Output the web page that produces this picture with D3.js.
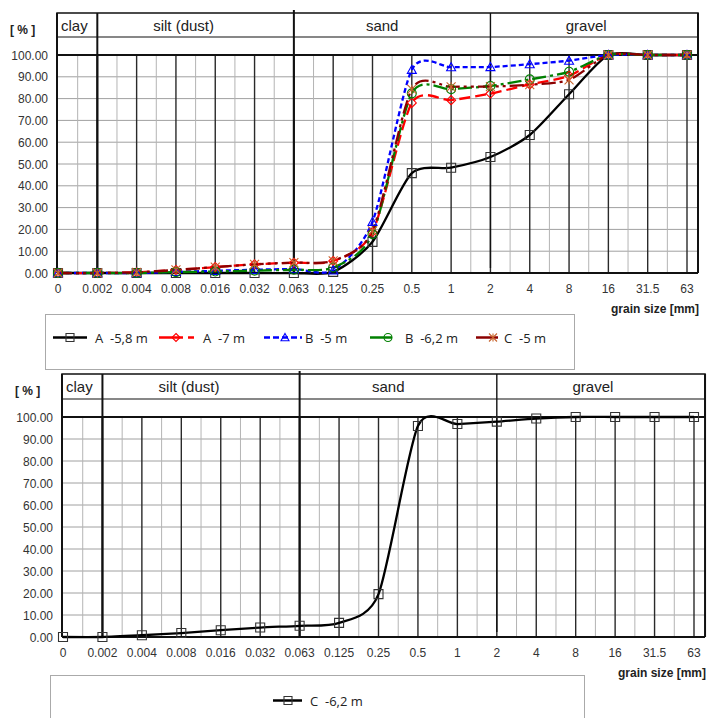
<!DOCTYPE html>
<html><head><meta charset="utf-8">
<script src="https://cdn.jsdelivr.net/npm/d3@7"></script>
<style>html,body{margin:0;padding:0;background:#fff;}svg{display:block;}</style>
</head><body>
<script>
// ---- DATA ----
const categories = ["0","0.002","0.004","0.008","0.016","0.032","0.063","0.125","0.25","0.5","1","2","4","8","16","31.5","63"];
const yTicks = [0,10,20,30,40,50,60,70,80,90,100];
const zones = [
  {name:"clay", from:0, to:1},
  {name:"silt (dust)", from:1, to:6},
  {name:"sand", from:6, to:11},
  {name:"gravel", from:11, to:16.28}
];
const serA58 = [0,0,0,0,0,0,0,0.5,14.3,45.8,48.3,53.2,63.3,82,100,100,100];
const serA7  = [0,0,0.3,1.4,2.7,4,4.7,5.5,18.8,78,79.3,82.3,86.5,90.5,100,100,100];
const serB5  = [0,0,0,0.5,1,1.5,1.8,1.2,23.5,93.2,94.4,94.5,95.8,97.4,100,100,100];
const serB62 = [0,0,0,0.4,0.7,1.1,1.5,2.5,17.8,82.4,84.3,85.8,88.8,92.3,100,100,100];
const serC5  = [0,0,0.3,1.4,2.7,4,4.8,5.6,19.3,84.3,85.4,85.5,86.4,88.6,100,100,100];
const serC62 = [0,0,0.8,1.8,3.1,4.3,5.1,6.4,19.5,95.9,96.8,97.9,99.3,100,100,100,100];

const topSeries = [
  {name:"A  -5,8 m", values:serA58, color:"#000", dash:null, marker:"square", mcolor:"#333"},
  {name:"A  -7 m", values:serA7, color:"#ff0000", dash:"11,5", marker:"diamond", mcolor:"#ff0000"},
  {name:"B  -5 m", values:serB5, color:"#0000ff", dash:"5,3", marker:"triangle", mcolor:"#0000ff"},
  {name:"B  -6,2 m", values:serB62, color:"#008000", dash:"14,4,3,4", marker:"circle", mcolor:"#008000"},
  {name:"C  -5 m", values:serC5, color:"#8b0000", dash:"14,4,3,4,3,4", marker:"asterisk", mcolor:"#c8642d"}
];
const bottomSeries = [
  {name:"C  -6,2 m", values:serC62, color:"#000", dash:null, marker:"square", mcolor:"#333"}
];

const W = 708, H = 718;
const svg = d3.select("body").append("svg").attr("width", W).attr("height", H);

function markerPath(type, s){
  const h = s/2;
  if(type==="square") return `M${-h},${-h}h${s}v${s}h${-s}z`;
  if(type==="diamond") return `M0,${-h}L${h},0L0,${h}L${-h},0z`;
  if(type==="triangle") return `M0,${-h}L${h},${h*0.8}L${-h},${h*0.8}z`;
  if(type==="circle") return `M${h},0A${h},${h} 0 1,1 ${-h},0A${h},${h} 0 1,1 ${h},0z`;
  if(type==="asterisk") return `M${-h},${-h}L${h},${h}M${-h},${h}L${h},${-h}M0,${-h}L0,${h}`;
}

function drawChart(cfg){
  const g = svg.append("g");
  const x = d3.scaleLinear().domain([0,16]).range([cfg.x0, cfg.x16]);
  const y = d3.scaleLinear().domain([0,100]).range([cfg.yBottom, cfg.yTop]);
  const xRight = x(16.28);
  const xLeft = x(0) - 1;

  // horizontal grid
  g.selectAll(".hg").data(yTicks.filter(d=>d>0 && d<100)).join("line")
    .attr("x1", xLeft).attr("x2", xRight).attr("y1", d=>y(d)).attr("y2", d=>y(d))
    .attr("stroke","#a0a0a0").attr("stroke-width",1);
  // minor verticals
  g.selectAll(".mv").data(d3.range(0,16)).join("line")
    .attr("x1", d=>x(d+0.5)).attr("x2", d=>x(d+0.5)).attr("y1", y(100)).attr("y2", y(0))
    .attr("stroke","#b4b4b4").attr("stroke-width",1);
  // major verticals
  g.selectAll(".Mv").data(d3.range(1,17)).join("line")
    .attr("x1", d=>x(d)).attr("x2", d=>x(d)).attr("y1", y(100)).attr("y2", y(0))
    .attr("stroke","#2a2a2a").attr("stroke-width",d=>(d===1||d===6)?2:1.4);

  // header box
  const hTop = cfg.hTop, hMid = cfg.hMid;
  g.append("rect").attr("x", xLeft).attr("y", hTop).attr("width", xRight - xLeft).attr("height", y(100)-hTop)
    .attr("fill","none").attr("stroke","#111").attr("stroke-width",1.5);
  g.append("line").attr("x1", xLeft).attr("x2", xRight).attr("y1", hMid).attr("y2", hMid)
    .attr("stroke","#111").attr("stroke-width",1.2);
  // zone dividers
  [1,6,11].forEach(i=>{
    g.append("line").attr("x1", x(i)).attr("x2", x(i)).attr("y1", i===6? hTop-3 : hTop)
      .attr("y2", i===11 ? y(0)-5 : y(0))
      .attr("stroke","#111").attr("stroke-width", i===11?1.4:2);
  });
  g.selectAll(".zt").data(zones).join("text")
    .attr("x", d=> d.name==="clay" ? x(d.from)+3 : (x(d.from)+x(d.to))/2 - (d.name==="silt (dust)"?12:(d.name==="sand"?10:8)))
    .attr("y", hTop + 18)
    .attr("text-anchor", d=> d.name==="clay" ? "start" : "middle")
    .attr("font-family","Liberation Sans, Arial, sans-serif").attr("font-size",15).attr("fill","#222")
    .text(d=>d.name);

  // plot border
  g.append("line").attr("x1", xLeft).attr("x2", xRight).attr("y1", y(100)).attr("y2", y(100)).attr("stroke","#111").attr("stroke-width",2);
  g.append("line").attr("x1", xLeft).attr("x2", xRight).attr("y1", y(0)).attr("y2", y(0)).attr("stroke","#111").attr("stroke-width",2);
  g.append("line").attr("x1", xLeft).attr("x2", xLeft).attr("y1", hTop).attr("y2", y(0)).attr("stroke","#111").attr("stroke-width",2);
  g.append("line").attr("x1", xRight).attr("x2", xRight).attr("y1", hTop).attr("y2", y(0)).attr("stroke","#111").attr("stroke-width",2);

  // y axis labels
  g.selectAll(".yl").data(yTicks).join("text")
    .attr("x", xLeft - 9).attr("y", d=>y(d)+4.5).attr("text-anchor","end")
    .attr("font-family","Liberation Sans, Arial, sans-serif").attr("font-size",12).attr("fill","#333")
    .text(d=>d.toFixed(2));
  g.append("text").attr("x", cfg.pctX).attr("y", hTop+21).attr("font-family","Liberation Sans, Arial, sans-serif")
    .attr("font-size",12).attr("font-weight","bold").attr("fill","#222").text("[ % ]");

  // x labels
  g.selectAll(".xl").data(categories).join("text")
    .attr("x", (d,i)=>x(i)).attr("y", y(0)+20).attr("text-anchor","middle")
    .attr("font-family","Liberation Sans, Arial, sans-serif").attr("font-size",12).attr("fill","#333")
    .text(d=>d);
  g.append("text").attr("x", xRight+1).attr("y", y(0)+40).attr("text-anchor","end")
    .attr("font-family","Liberation Sans, Arial, sans-serif").attr("font-size",12).attr("font-weight","bold").attr("fill","#222")
    .text("grain size [mm]");

  // series
  const line = d3.line().x((d,i)=>x(i)).y(d=>y(d)).curve(d3.curveCardinal.tension(0.25));
  cfg.series.forEach(s=>{
    g.append("path").attr("d", line(s.values)).attr("fill","none").attr("stroke", s.color)
      .attr("stroke-width", 2.3).attr("stroke-dasharray", s.dash).attr("stroke-linejoin","round");
  });
  cfg.series.forEach(s=>{
    g.selectAll(null).data(s.values).join("path")
      .attr("transform",(d,i)=>`translate(${x(i)},${y(d)})`)
      .attr("d", markerPath(s.marker, 9)).attr("fill","none").attr("stroke", s.mcolor).attr("stroke-width",1.1);
  });

  // legend
  const L = cfg.legend;
  g.append("rect").attr("x", L.x).attr("y", L.y).attr("width", L.w).attr("height", L.h)
    .attr("fill","none").attr("stroke","#aaa").attr("stroke-width",1);
  cfg.series.forEach((s,i)=>{
    const it = L.items[i];
    const ly = L.y + L.cy;
    g.append("line").attr("x1", it.l0).attr("x2", it.l1).attr("y1", ly).attr("y2", ly)
      .attr("stroke", s.color).attr("stroke-width",2.5).attr("stroke-dasharray", it.dash || null);
    g.append("path").attr("transform",`translate(${it.m},${ly})`).attr("d", markerPath(s.marker,8))
      .attr("fill","none").attr("stroke", s.mcolor).attr("stroke-width",1.1);
    g.append("text").attr("x", it.t).attr("y", ly+5).attr("font-family","Open Sans, sans-serif")
      .attr("font-size",13).attr("fill","#222").style("white-space","pre").text(s.name);
  });
}

drawChart({
  x0:58, x16:687, yTop:55, yBottom:273, hTop:13, hMid:37, pctX:10,
  series: topSeries,
  legend:{x:45.5, y:314.5, w:529, h:55, cy:23, items:[
    {l0:53, l1:87, m:70, t:95},
    {l0:159, l1:194, m:176, t:203, dash:"24,5,6,100"},
    {l0:264, l1:302, m:285, t:305, dash:"6,3"},
    {l0:370, l1:392, m:388, t:405},
    {l0:476, l1:498, m:493, t:504}
  ]}
});
drawChart({
  x0:63, x16:694, yTop:417, yBottom:637, hTop:374, hMid:399, pctX:15,
  series: bottomSeries,
  legend:{x:50.5, y:675.5, w:534, h:60, cy:25, items:[{l0:273, l1:302, m:288, t:310}]}
});
</script>
</body></html>
